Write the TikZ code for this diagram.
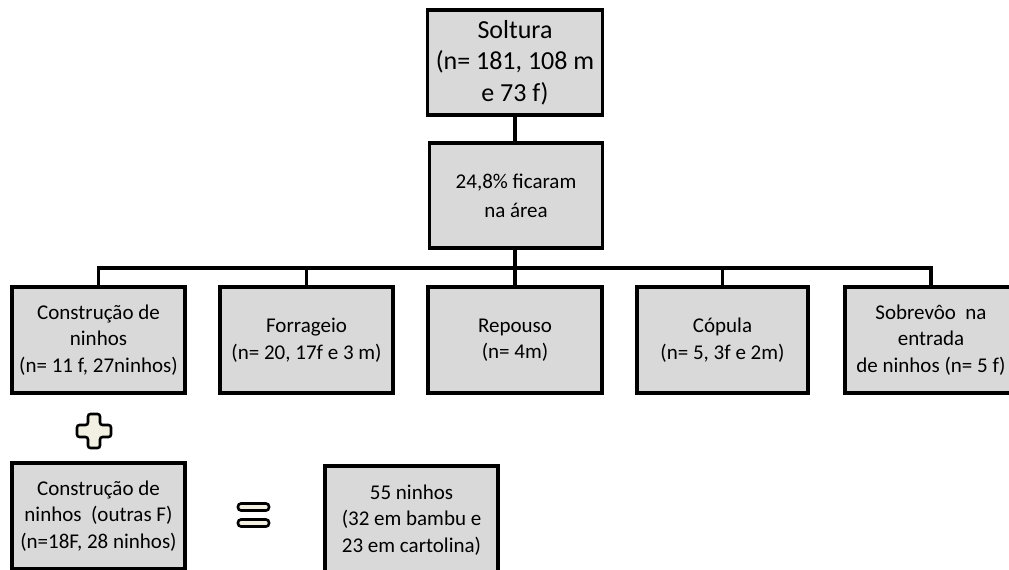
\documentclass[tikz,border=0pt]{standalone}
\usepackage{fontspec}
\setmainfont{Carlito}
\begin{document}
\begin{tikzpicture}[x=1pt,y=-1pt,
  box/.style={draw=black, line width=3.2pt, fill=boxgray, align=center, inner sep=0pt, text=black},
  conn/.style={line width=3.6pt, black},
  sym/.style={draw=black, line width=2.6pt, fill=symcream, rounded corners=3pt},
  big/.style={font=\fontsize{26}{31.5}\selectfont},
  mid/.style={font=\fontsize{21}{29}\selectfont},
  small/.style={font=\fontsize{21}{26.5}\selectfont}]
\definecolor{boxgray}{HTML}{D9D9D9}
\definecolor{symcream}{HTML}{F2F0E2}
\useasboundingbox (0,0) rectangle (1009,570);
\clip (0,0) rectangle (1009,570);
% top boxes
\node[box, big, minimum width=175pt, minimum height=105pt] (sol) at (515,62.5) {Soltura\\(n= 181, 108 m\\e 73 f)};
\node[box, mid, minimum width=173pt, minimum height=105pt] (area) at (516,195.5) {24,8\% ficaram\\na área};
% row boxes
\node[box, small, minimum width=173pt, minimum height=106pt] (c1) at (98.5,340) {Construção de\\ninhos\\(n= 11 f, 27ninhos)};
\node[box, small, minimum width=173pt, minimum height=106pt] (c2) at (306.5,340) {Forrageio\\(n= 20, 17f e 3 m)};
\node[box, small, minimum width=174pt, minimum height=106pt] (c3) at (515,340) {Repouso\\(n= 4m)};
\node[box, small, minimum width=171pt, minimum height=106pt] (c4) at (722.5,340) {Cópula\\(n= 5, 3f e 2m)};
\node[box, small, minimum width=172pt, minimum height=106pt] (c5) at (931,340) {Sobrevôo~ na\\entrada\\de ninhos (n= 5 f)};
% bottom boxes
\node[box, small, minimum width=173pt, minimum height=106pt] (d1) at (98.5,516) {Construção de\\ninhos~ (outras F)\\(n=18F, 28 ninhos)};
\node[box, small, minimum width=173pt, minimum height=108pt] (d2) at (411.5,520) {55 ninhos\\(32 em bambu e\\23 em cartolina)};
% connectors
\coordinate (bar) at (515,268);
\draw[conn] (sol.south) -- (sol.south |- area.north);
\draw[conn] (sol.south |- area.south) -- (bar);
\draw[conn] (c1.north) |- (bar) -| (c5.north);
\draw[conn] (c2.north) -- (c2.north |- bar);
\draw[conn] (c3.north) -- (c3.north |- bar);
\draw[conn] (c4.north) -- (c4.north |- bar);
% plus sign
\draw[sym, rounded corners=2.5pt] (88,414) -- (100,414) -- (100,425) -- (111,425) -- (111,437) -- (100,437) -- (100,448) -- (88,448) -- (88,437) -- (77,437) -- (77,425) -- (88,425) -- cycle;
% equals sign
\draw[sym] (238,503.5) rectangle (269,510.5);
\draw[sym] (238,519.5) rectangle (269,526.5);
\end{tikzpicture}
\end{document}
